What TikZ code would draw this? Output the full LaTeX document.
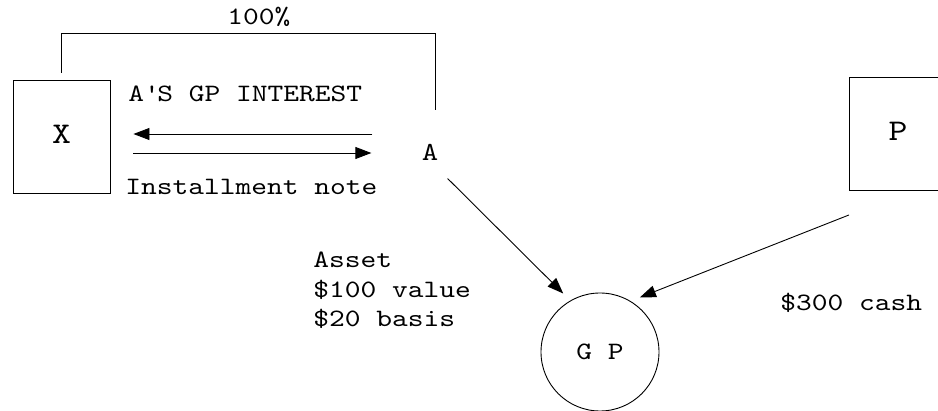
\documentclass[tikz,border=0pt]{standalone}
\usepackage{fontspec}
\setmainfont{lmmono10-regular.otf}[FakeStretch=1.2]
\usetikzlibrary{arrows.meta}
\begin{document}
\begin{tikzpicture}[x=1pt, y=-1pt, line width=0.9pt, >={Triangle[length=16pt,width=12pt]},
  party/.style={rectangle,draw,minimum width=97pt,minimum height=113pt,text depth=5pt,font=\fontsize{30}{30}\selectfont},
  gp node/.style={circle,draw,minimum size=118pt,inner sep=0pt,font=\fontsize{25}{25}\selectfont},
  lbl/.style={inner sep=0pt,anchor=base west,font=\fontsize{25}{29.5}\selectfont}]
\useasboundingbox (0,0) rectangle (938,411);
\node [party](X) at (61.5,136.5) {X};
\node [party](P) at (898,134) {P};
\node [inner sep=0pt,font=\fontsize{26}{26}\selectfont](A) at (430,152) {A};
\node [gp node](GP) at (600,352) {G P};
% labels
\node [lbl](pct) at (227,25) {100\%};
\node [lbl](interest) at (128,102) {A\textquotesingle S GP INTEREST};
\node [lbl](note) at (125,195) {Installment note};
\node [lbl,align=left](asset) at (313,327) {Asset\\\$100 value\\\$20 basis};
\node [lbl](cash) at (780,311) {\$300 cash};
% ownership bracket
\draw ([yshift=7pt]X.north) -- ++(0,-39) -| ([xshift=5pt,yshift=33pt]A.north);
\path [->]
	([xshift=-49pt,yshift=18pt]A.west) edge ([xshift=23pt,yshift=2.5pt]X.east)
	([xshift=23pt,yshift=-16.5pt]X.east) edge ([xshift=-50pt,yshift=-1pt]A.west)
	([xshift=9pt,yshift=-18pt]A.south east) edge [shorten >=10pt] (GP.120)
	([yshift=-24pt]P.south west) edge [shorten >=10pt] (GP.59)
	;
\end{tikzpicture}
\end{document}
